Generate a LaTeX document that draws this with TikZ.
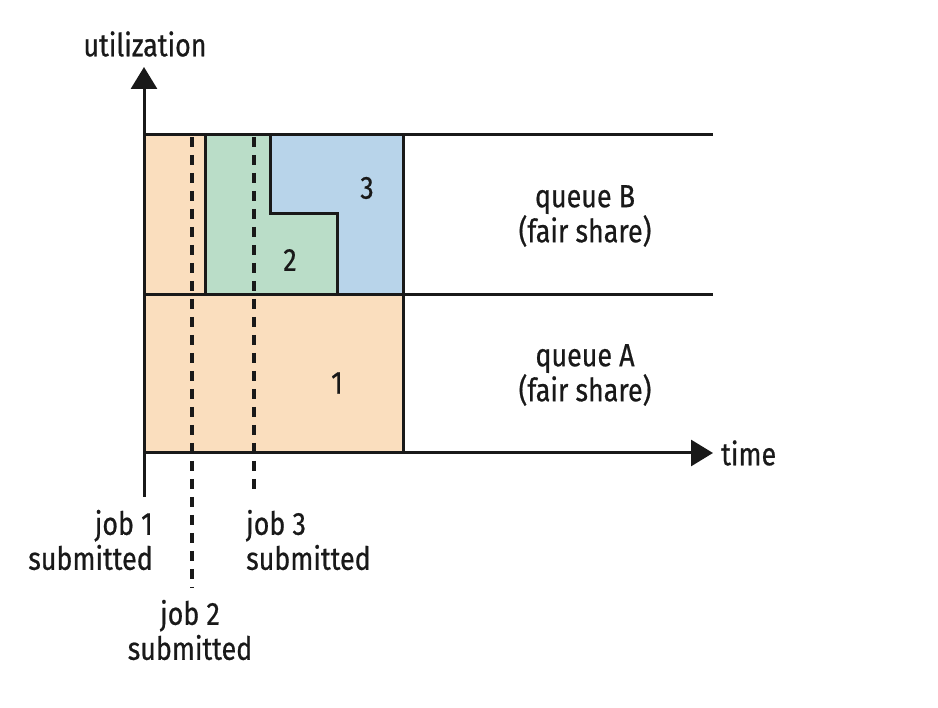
\documentclass[tikz,border=0pt]{standalone}
\usepackage{fontspec}
\setmainfont{Fira Sans}[FakeStretch=0.84,FakeBold=0.6]
\usetikzlibrary{arrows.meta}
\definecolor{orangefill}{RGB}{250,222,190}
\definecolor{greenfill}{RGB}{186,221,200}
\definecolor{bluefill}{RGB}{184,212,234}
\definecolor{ink}{RGB}{25,25,25}
\tikzset{
  lbl/.style={font=\fontsize{32}{35}\selectfont, text=ink, inner sep=0pt, align=center},
  edge/.style={draw=ink, line width=3pt},
  axis/.style={draw=ink, line width=3pt, -{Triangle[width=26pt,length=22pt]}},
  submit/.style={draw=ink, line width=4.5pt, dash pattern=on 10pt off 8pt},
}
\begin{document}
\begin{tikzpicture}[x=1pt,y=-1pt]
\useasboundingbox (0,0) rectangle (938,708);
\fill[white] (0,0) rectangle (938,708);
% fills
\fill[orangefill] (144,135) -- (205,135) -- (205,295) -- (403,295) -- (403,453) -- (144,453) -- cycle;
\fill[greenfill] (205,135) -- (270,135) -- (270,214) -- (337,214) -- (337,295) -- (205,295) -- cycle;
\fill[bluefill] (270,135) -- (403,135) -- (403,295) -- (337,295) -- (337,214) -- (270,214) -- cycle;
% coordinates
\coordinate (o) at (144,453);
\coordinate (ybot) at (144,497);
\coordinate (ytip) at (144,67);
\coordinate (xtip) at (713,453);
\coordinate (topL) at (144,135);
\coordinate (topR) at (713,135);
\coordinate (midL) at (144,295);
\coordinate (midR) at (713,295);
% dashed submission lines
\draw[submit] (192,137) -- (192,588);
\draw[submit] (254,137) -- (254,496);
% outlines
\draw[edge] (topL) -- (topR);
\draw[edge] (midL) -- (midR);
\draw[edge] (205,135) -- (205,295);
\draw[edge] (270,135) -- (270,214) -- (337,214) -- (337,295);
\draw[edge] (403,135) -- (403,453);
% axes
\draw[axis] (ybot) -- (ytip);
\draw[axis] (o) -- (xtip);
% labels
\node[lbl] (util) at (145,44) {utilization};
\node[lbl, anchor=west] (time) at (721,453) {time};
\node[lbl] (qb) at (585,216) {queue B\\(fair share)};
\node[lbl] (qa) at (585,375) {queue A\\(fair share)};
\node[lbl] (j1n) at (337,383) {1};
\node[lbl] (j2n) at (290,260) {2};
\node[lbl] (j3n) at (367,188) {3};
\node[lbl, align=right, anchor=east] (j1) at (153,540) {job 1\\submitted};
\node[lbl, align=center] (j2) at (190,630) {job 2\\submitted};
\node[lbl, align=left, anchor=west] (j3) at (246,540) {job 3\\submitted};
\end{tikzpicture}
\end{document}
